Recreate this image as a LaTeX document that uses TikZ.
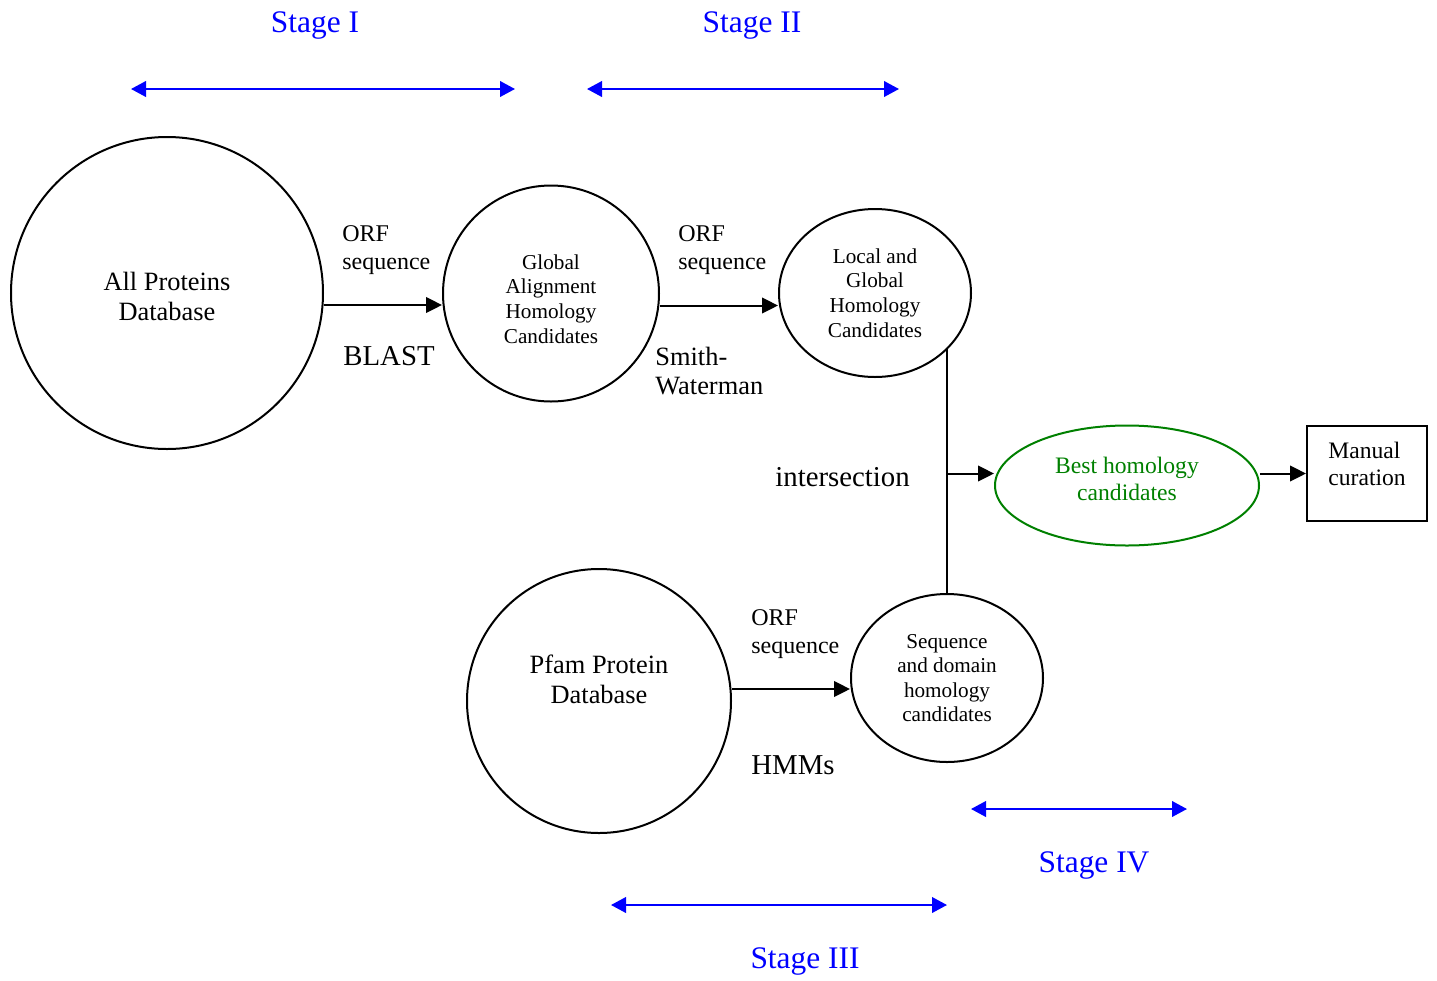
\documentclass[tikz,border=0pt]{standalone}
\usepackage{fontspec}
\setmainfont{Liberation Serif}
\usetikzlibrary{shapes.geometric,arrows.meta}
\definecolor{bgreen}{RGB}{0,128,0}
\begin{document}
\begin{tikzpicture}[x=0.5pt,y=-0.5pt,
  shp/.style={draw,line width=1pt,inner sep=0pt,align=center},
  circ/.style={shp,circle},
  ell/.style={shp,ellipse},
  arr/.style={-{Triangle[length=8pt,width=7.8pt]},line width=1pt},
  stagearr/.style={{Triangle[length=7.5pt,width=7.8pt]}-{Triangle[length=7.5pt,width=7.8pt]},draw=blue,line width=1pt},
  stagelbl/.style={text=blue,font=\fontsize{15.7}{18}\selectfont,inner sep=0pt},
  big/.style={font=\fontsize{13.2}{15}\selectfont,align=center,inner sep=0pt},
  method/.style={font=\fontsize{14.4}{16}\selectfont,inner sep=0pt,anchor=west},
  orf/.style={font=\fontsize{12}{14}\selectfont,align=left,inner sep=0pt,anchor=west},
  small/.style={font=\fontsize{10.6}{12.3}\selectfont,align=center,inner sep=0pt},
  mid/.style={font=\fontsize{11.8}{13.4}\selectfont,inner sep=0pt},
]
\useasboundingbox (0,0) rectangle (1437,981);

% stage markers
\coordinate (s1a) at (131,89);  \coordinate (s1b) at (515,89);
\coordinate (s2a) at (587,89);  \coordinate (s2b) at (899,89);
\coordinate (s3a) at (611,905); \coordinate (s3b) at (947,905);
\coordinate (s4a) at (971,809); \coordinate (s4b) at (1187,809);
\draw[stagearr] (s1a) -- (s1b);
\draw[stagearr] (s2a) -- (s2b);
\draw[stagearr] (s3a) -- (s3b);
\draw[stagearr] (s4a) -- (s4b);
\node[stagelbl] (st1) at (315,25) {Stage I};
\node[stagelbl] (st2) at (752,25) {Stage II};
\node[stagelbl] (st3) at (805,961) {Stage III};
\node[stagelbl] (st4) at (1094,865) {Stage IV};

% main nodes
\node[circ,minimum size=156pt] (ap) at (167,293) {};
\node[big] (apt) at (167,296) {All Proteins\\Database};
\node[circ,minimum size=108pt] (ga) at (551,293.5) {};
\node[small] (gat) at (551,299) {Global\\Alignment\\Homology\\Candidates};
\node[ell,small,minimum width=96pt,minimum height=84pt] (lg) at (875,293) {Local and\\Global\\Homology\\Candidates};
\node[circ,minimum size=132pt] (pf) at (599,701) {};
\node[big] (pft) at (599,679) {Pfam Protein\\Database};
\node[ell,small,minimum width=96pt,minimum height=84pt] (sq) at (947,678) {Sequence\\and domain\\homology\\candidates};
\node[ell,draw=bgreen,minimum width=132pt,minimum height=60pt] (bh) at (1127,485.5) {};
\node[mid,align=center,text=bgreen] (bht) at (1127,479) {Best homology\\candidates};
\node[draw,line width=1pt,minimum width=60pt,minimum height=47.5pt,inner sep=0pt] (mc) at (1367,473.5) {};
\node[mid,align=left,anchor=west] (mct) at (1328,464) {Manual\\curation};

% edge labels
\node[orf] (orf1) at (342,250) {ORF\\sequence};
\node[method] (blast) at (343,356) {BLAST};
\node[orf] (orf2) at (678,250) {ORF\\sequence};
\node[big,align=left,anchor=west,font=\fontsize{13.2}{14.3}\selectfont] (sw) at (655,371) {Smith-\\Waterman};
\node[method] (inter) at (775,477) {intersection};
\node[orf] (orf3) at (751,634) {ORF\\sequence};
\node[method] (hmm) at (751,765) {HMMs};

% connectors
\draw[arr] ([yshift=-6pt]ap.east) -- ([yshift=-6pt]ap.east -| ga.west);
\draw[arr] ([yshift=-6pt]ga.east) -- ([yshift=-6pt]ga.east -| lg.west);
\draw[arr] ([yshift=6pt]pf.east) -- ([yshift=6pt]pf.east -| sq.west);
\coordinate (jtop) at (sq.north |- lg.-37.7);
\coordinate (jn) at (sq.north |- mc.west);
\draw[line width=1pt] (jtop) -- (sq.north);
\draw[arr] (jn) -- (jn -| bh.west);
\draw[arr] (mc.west -| bh.east) -- (mc.west);
\end{tikzpicture}
\end{document}
